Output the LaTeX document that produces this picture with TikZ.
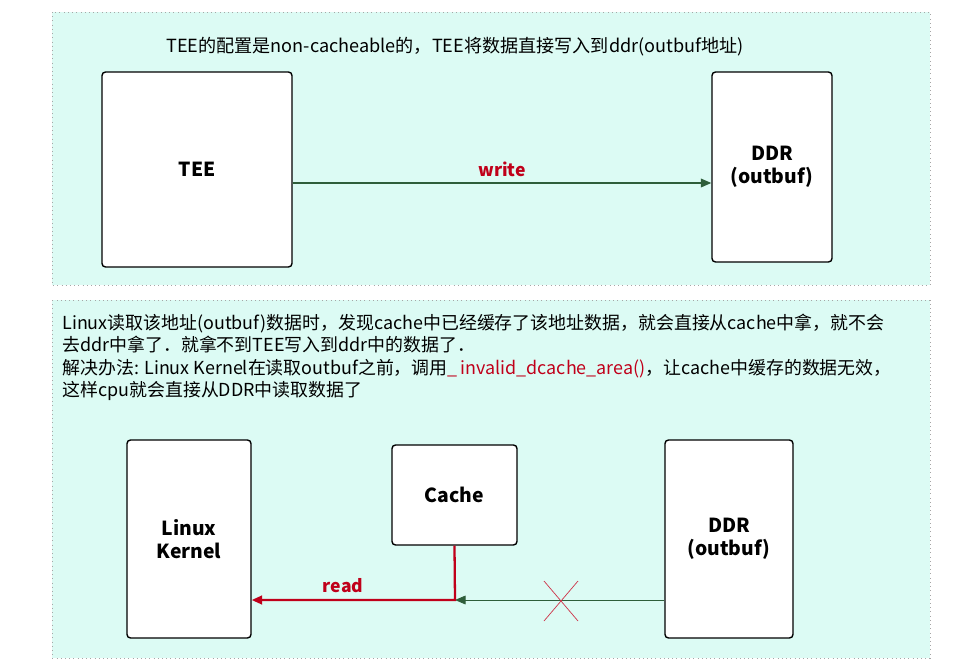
\documentclass[tikz,border=0pt]{standalone}
\usepackage{fontspec}
\setmainfont{Noto Sans CJK SC}
\usetikzlibrary{arrows.meta,calc}
\definecolor{panelfill}{HTML}{DCFBF4}
\definecolor{linegreen}{HTML}{2E5E3A}
\definecolor{readred}{HTML}{C0001A}
\tikzset{
  panel/.style={draw=gray!70, dotted, fill=panelfill},
  block/.style={draw=black, thick, fill=white, rounded corners=2pt, font=\fontsize{11}{13}\selectfont\bfseries, align=center},
  note/.style={font=\fontsize{10.2}{12.6}\selectfont, align=left, anchor=north west, inner sep=0pt},
  arrow/.style={thick, -{Triangle[length=6pt, width=5pt]}}
}
\begin{document}
\begin{tikzpicture}[x=0.02cm, y=-0.02cm]
\useasboundingbox (0,0) rectangle (975,670);
% upper panel
\draw [panel] (52,12) rectangle (930,285);
\node [font=\fontsize{10.3}{12}\selectfont] (topnote) at (455,47) {TEE的配置是non-cacheable的，TEE将数据直接写入到ddr(outbuf地址)};
\node (TEE)[block, minimum width=190*0.02cm, minimum height=195*0.02cm] at (197,169.5) {TEE};
\node (DDRa)[block, minimum width=120*0.02cm, minimum height=190*0.02cm] at (772,167) {DDR\\(outbuf)};
\draw [arrow, linegreen] (TEE.east |- 0,183) -- (DDRa.west |- 0,183) node [midway, above, text=readred, font=\fontsize{10}{12}\selectfont\bfseries] {write};

% lower panel
\draw [panel] (52,300) rectangle (930,658);
\node [note] (botnote) at (62,314) {Linux读取该地址(outbuf)数据时，发现cache中已经缓存了该地址数据，就会直接从cache中拿，就不会\\
去ddr中拿了．就拿不到TEE写入到ddr中的数据了．\\
解决办法: Linux Kernel在读取outbuf之前，调用\textcolor{readred}{\_\,invalid\_dcache\_area()}，让cache中缓存的数据无效，\\
这样cpu就会直接从DDR中读取数据了};
\node (Kernel)[block, minimum width=124*0.02cm, minimum height=198*0.02cm] at (189,539) {Linux\\Kernel};
\node (Cache)[block, minimum width=125*0.02cm, minimum height=100*0.02cm] at (454.5,495) {Cache};
\node (DDRb)[block, minimum width=128*0.02cm, minimum height=198*0.02cm] at (729,539) {DDR\\(outbuf)};
\coordinate (join) at (455,600);
\draw [arrow, linegreen, thin] (DDRb.west |- join) -- (join);
\draw [arrow, readred, line width=1.3pt] (Cache.south) -- (join) -- (Kernel.east |- join) node [pos=0.55, above, font=\fontsize{10}{12}\selectfont\bfseries] {read};
\coordinate (cross) at (561,601);
\draw [readred!80, thin] ($(cross)+(-17,-20)$) -- ($(cross)+(17,20)$);
\draw [readred!80, thin] ($(cross)+(-17,20)$) -- ($(cross)+(17,-20)$);
\end{tikzpicture}
\end{document}
